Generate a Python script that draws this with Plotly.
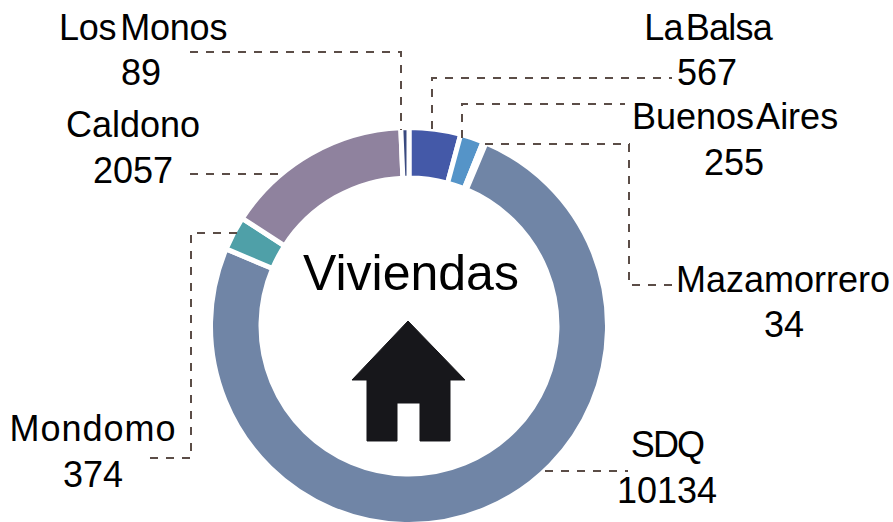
import plotly.graph_objects as go

labels = ["La Balsa", "Buenos Aires", "Mazamorrero", "SDQ", "Mondomo", "Caldono", "Los Monos"]
values = [567, 255, 34, 10134, 374, 2057, 89]
colors = ["#4459A8", "#5594C8", "#2F6FA8", "#7085A6", "#4FA0A8", "#8F829E", "#3A4A80"]
center_title = "Viviendas"

W, H = 893, 526
def px(x): return x / W
def py(y): return 1 - y / H

R = 198.5
CX, CY = 409, 326

fig = go.Figure(go.Pie(
    labels=labels, values=values, hole=148 / 198.5, sort=False, direction="clockwise",
    rotation=0, textinfo="none", showlegend=False, hoverinfo="label+value",
    marker=dict(colors=colors, line=dict(color="white", width=5)),
    domain=dict(x=[px(CX - R), px(CX + R)], y=[py(CY + R), py(CY - R)]),
))

FONT = "Liberation Sans"
SIZE = 36
text_pos = {
    "La Balsa": ((708, 27), (707, 72)),
    "Buenos Aires": ((735, 116), (734, 162)),
    "Mazamorrero": ((783, 279), (784, 324)),
    "SDQ": ((667, 444), (667, 490)),
    "Mondomo": ((93, 428), (93, 474)),
    "Caldono": ((133, 124), (133, 170)),
    "Los Monos": ((143, 27), (141, 72)),
}
ann = []
for lab, val in zip(labels, values):
    for txt, (x, y) in zip((lab, str(val)), text_pos[lab]):
        ann.append(dict(x=px(x), y=py(y), xref="paper", yref="paper", text=txt, showarrow=False,
                        xanchor="center", yanchor="middle",
                        font=dict(family=FONT, size=SIZE, color="#000000")))
ann.append(dict(x=px(411), y=py(273), xref="paper", yref="paper", text=center_title, showarrow=False,
                xanchor="center", yanchor="middle", font=dict(family=FONT, size=50, color="#000000")))

leaders = [
    [(190, 52), (401, 52), (401, 130)],
    [(432, 129), (432, 78), (672, 78)],
    [(462, 138), (462, 104), (625, 104)],
    [(485, 144), (629, 144), (629, 285), (672, 285)],
    [(545, 471), (628, 471)],
    [(150, 458), (191, 458), (191, 233), (240, 233)],
    [(190, 174), (285, 174)],
]
def path(points, close=False):
    s = "M " + " L ".join(f"{px(x):.5f},{py(y):.5f}" for x, y in points)
    return s + (" Z" if close else "")

shapes = [dict(type="path", xref="paper", yref="paper", path=path(p),
               line=dict(color="#5B4D47", width=2, dash="8px,8px")) for p in leaders]
house = [(408, 321), (465, 380), (450, 380), (450, 441), (420, 441), (420, 403), (397, 403),
         (397, 441), (367, 441), (367, 380), (352, 380)]
shapes.append(dict(type="path", xref="paper", yref="paper", path=path(house, True),
                   fillcolor="#17171B", line=dict(color="#17171B", width=1)))

fig.update_layout(width=W, height=H, margin=dict(l=0, r=0, t=0, b=0), paper_bgcolor="white",
                  plot_bgcolor="white", annotations=ann, shapes=shapes, showlegend=False)
post = """
document.documentElement.style.overflow='hidden';
document.body.style.margin='0';
document.body.style.overflow='hidden';
var ls={'La Balsa':'-0.8px','SDQ':'-1.8px','Mondomo':'1px','Los Monos':'-0.2px'};
document.querySelectorAll('.annotation-text').forEach(function(t){
  t.style.wordSpacing='-6px';
  var k=t.textContent; if(ls[k]) t.style.letterSpacing=ls[k];
});
"""
fig.write_html("out.html", post_script=post, config={"displayModeBar": False})
